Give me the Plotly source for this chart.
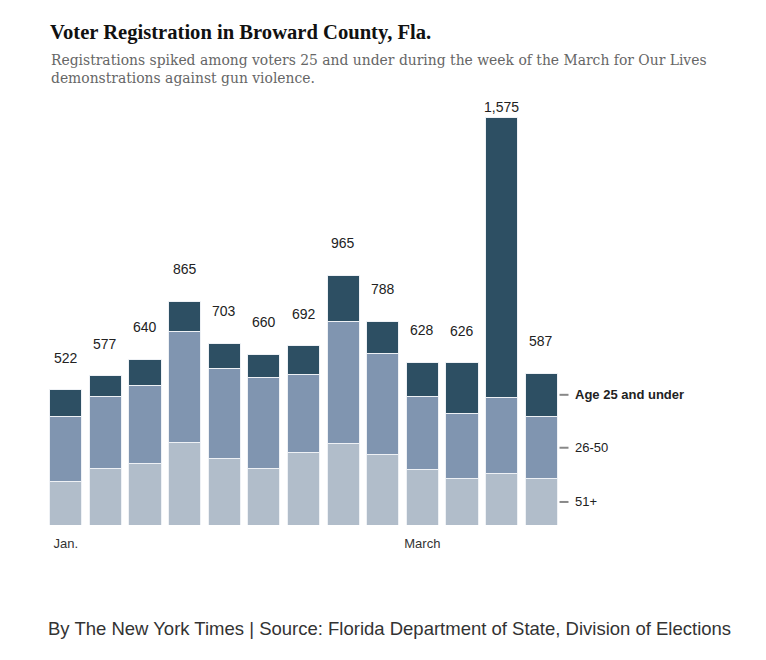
import plotly.graph_objects as go

weeks = [f"Week {i}" for i in range(1, 14)]
age_51_plus = [169, 220, 236, 320, 258, 220, 279, 313, 271, 216, 181, 200, 178]
age_26_50 = [249, 276, 303, 427, 345, 349, 303, 472, 391, 280, 248, 293, 241]
totals = [522, 577, 640, 865, 703, 660, 692, 965, 788, 628, 626, 1575, 587]
age_25_under = [t - a - b for t, a, b in zip(totals, age_51_plus, age_26_50)]
tick_vals = [weeks[0], weeks[9]]
tick_text = ["Jan.", "March"]
series_names = ["51+", "26-50", "Age 25 and under"]

c_dark = "#2d4f63"
c_mid = "#8095b0"
c_light = "#b1bdca"

W, H = 766, 660
OFF = 8  # page body margin offset
# target plot area in page pixels
P_L, P_R, P_B = 46.4, 561.5, 525.0
ymax = 1700
P_T = P_B - ymax * (408 / 1575)
PW, PH = P_R - P_L, P_B - P_T


def px(x):
    return (x - P_L) / PW


def py(y):
    return (P_B - y) / PH


fig = go.Figure()
for name, vals, col in [("51+", age_51_plus, c_light), ("26-50", age_26_50, c_mid),
                        ("Age 25 and under", age_25_under, c_dark)]:
    fig.add_trace(go.Bar(x=weeks, y=vals, name=name,
                         marker=dict(color=col, line=dict(color="#eef1f5", width=1)),
                         hoverinfo="x+y+name"))

annotations = []
mx = max(totals)
for w, t in zip(weeks, totals):
    annotations.append(dict(x=w, y=t, xref="x", yref="y", text=f"{t:,}", showarrow=False,
                            yanchor="bottom", yshift=0 if t == mx else 22,
                            font=dict(family="Liberation Sans, Arial", size=14, color="#222")))

last = len(weeks) - 1
mids = [age_51_plus[last] / 2,
        age_51_plus[last] + age_26_50[last] / 2,
        age_51_plus[last] + age_26_50[last] + age_25_under[last] / 2]
shapes = []
for name, m in zip(series_names, mids):
    bold = name.startswith("Age")
    annotations.append(dict(x=1.0, y=m, xref="x domain", yref="y", xshift=12,
                            text=f"<b>{name}</b>" if bold else name, showarrow=False,
                            xanchor="left", yanchor="middle",
                            font=dict(family="Liberation Sans, Arial", size=13, color="#222")))
    shapes.append(dict(type="line", xref="x domain", yref="y", x0=px(560), x1=px(569), y0=m, y1=m,
                       line=dict(color="#888", width=2)))

annotations.append(dict(x=px(49), y=py(49.5), xref="paper", yref="paper", xanchor="left", yanchor="top",
                        text="Registrations spiked among voters 25 and under during the week of the March for Our Lives<br>demonstrations against gun violence.",
                        showarrow=False, align="left",
                        font=dict(family="DejaVu Serif, Georgia, serif", size=13.9, color="#666")))
annotations.append(dict(x=px(46), y=py(616), xref="paper", yref="paper", xanchor="left", yanchor="top",
                        text="By The New York Times | Source: Florida Department of State, Division of Elections",
                        showarrow=False, align="left",
                        font=dict(family="Liberation Sans, Arial", size=18.5, color="#333")))

fig.update_layout(
    width=W, height=H,
    barmode="stack", bargap=0.19,
    plot_bgcolor="white", paper_bgcolor="white",
    showlegend=False,
    margin=dict(l=P_L - OFF, r=W - (P_R - OFF), t=P_T - OFF, b=H - (P_B - OFF), autoexpand=False),
    title=dict(text="<b>Voter Registration in Broward County, Fla.</b>", xref="container", yref="container",
               x=(50 - OFF) / W, xanchor="left", y=1 - (25 - OFF) / H, yanchor="top",
               font=dict(family="Liberation Serif, Georgia, serif", size=20.6, color="#111")),
    xaxis=dict(type="category", tickvals=tick_vals, ticktext=tick_text, showgrid=False, zeroline=False,
               showline=False, ticks="outside", ticklen=6, tickcolor="rgba(0,0,0,0)",
               tickfont=dict(family="Liberation Sans, Arial", size=13, color="#333")),
    yaxis=dict(range=[0, ymax], visible=False),
    annotations=annotations,
    shapes=shapes,
)

fig.write_html("out.html")
